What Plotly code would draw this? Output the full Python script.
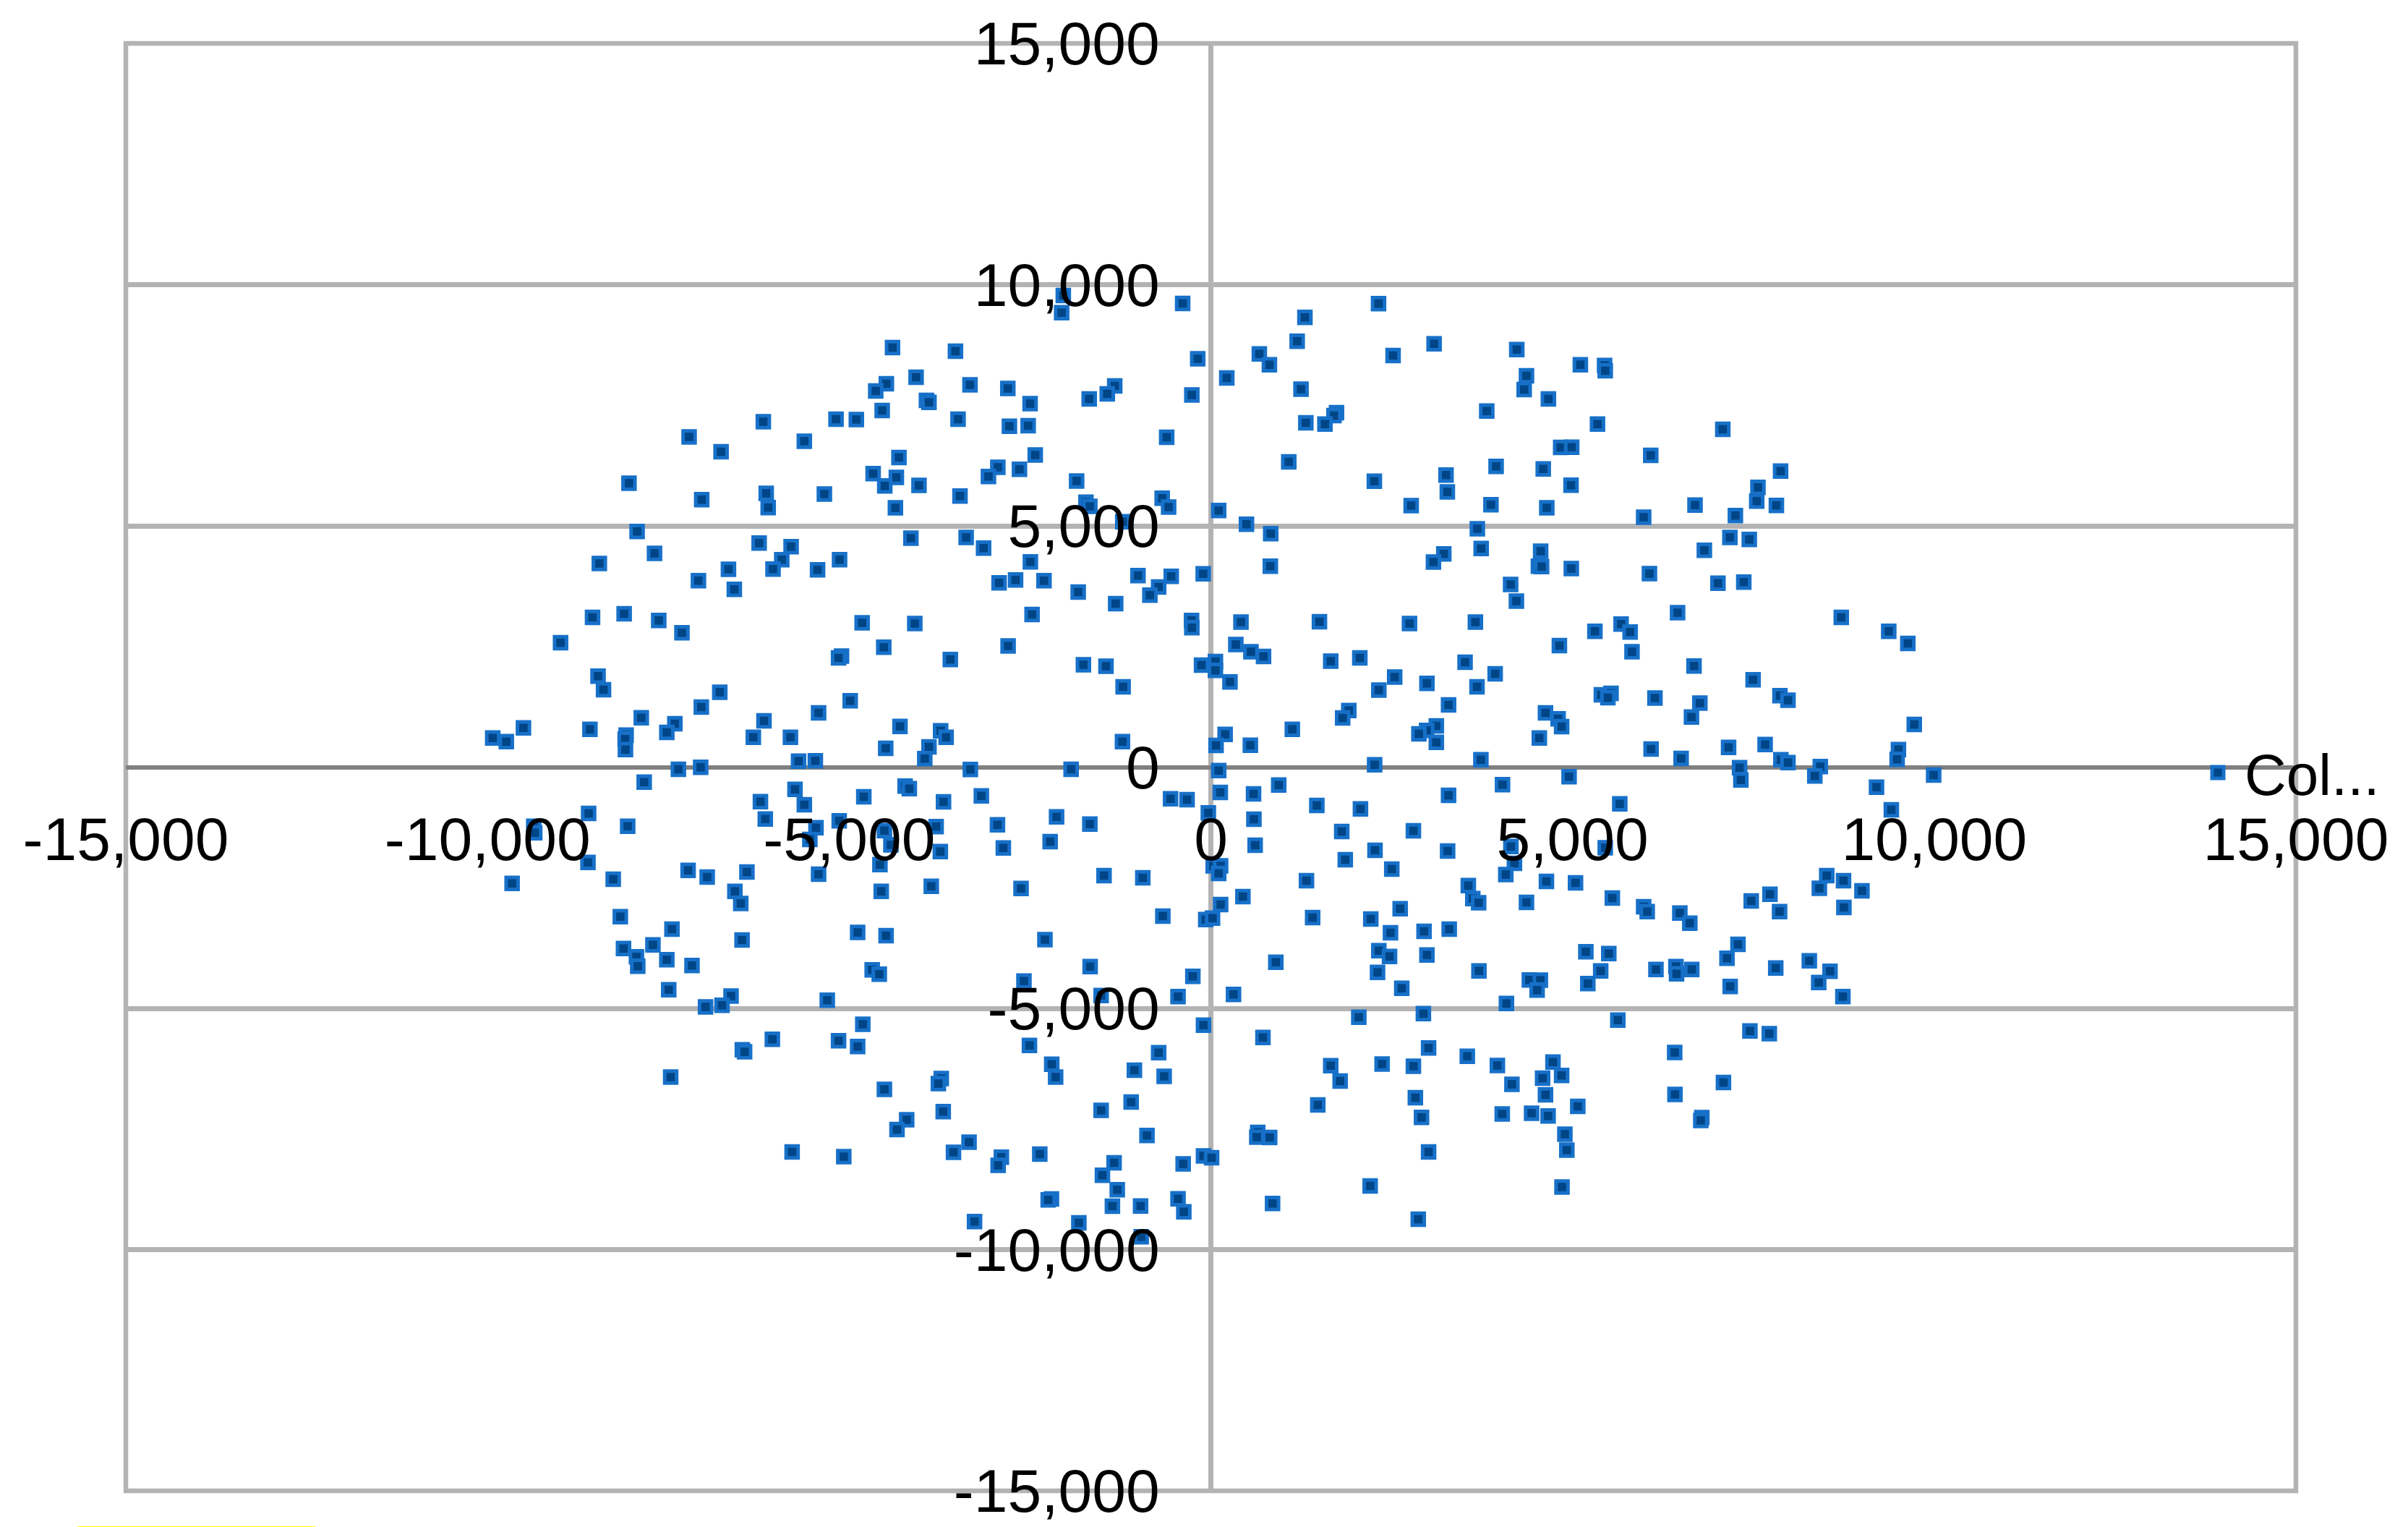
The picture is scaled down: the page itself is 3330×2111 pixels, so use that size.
import plotly.graph_objects as go

series_name = "Col..."
tick_values = [-15000, -10000, -5000, 0, 5000, 10000, 15000]
tick_labels = ["-15,000", "-10,000", "-5,000", "0", "5,000", "10,000", "15,000"]

col_x = [
 -4401,-3531,-4075,-4486,-4633,-3330,-3932,-3897,-4544,-6187,-5182,-4901,-3495,-7213,-5620,-6771,-4312,-4669,-4348,-4508,-4035,-8044,-7039,-6147,-6120,-5343,-3468,-4361,-7932,-4147,-3383,-6245,-5803,-7691,-5932,-8454,-5133,-6669,-6053,-5437,-7084,-6588,
 -2040,-2063,-390,2318,1300,1193,3086,-182,670,809,2519,220,-2807,-1329,-1432,-1682,-2499,-263,1246,1737,1702,1313,1577,-2785,-2526,-611,-2428,-2945,-2646,-3075,1077,-1856,2260,3251,3269,2769,-1727,-1673,-673,-584,108,-1218,492,827,3684,-3142,3220,3077,3737,-2495,822,-106,-1008,-548,-722,-843,-2928,-2700,-2307,-1834,-1316,
 4229,5108,5443,5452,4363,4331,4666,3814,5345,7077,4836,4988,6081,3943,4595,7876,4979,7563,7546,7818,3872,4644,6693,5983,7251,7175,7443,6822,4559,4528,4572,4983,6063,7010,7367,4144,4224,
 -8548,-8111,-7633,-7312,-8990,-4821,-4093,-4522,-5106,-5147,-3602,-8472,-8396,-6789,-7044,-4986,-5423,-6178,-7874,-7410,-7521,-9503,-9928,-9740,-8584,-8084,-8097,-8093,-6325,-5812,-4298,-3736,-3660,-4495,-3897,-3955,-5700,-5468,-7361,-7053,-3325,-7834,-4227,-4169,-5749,-4798,-6227,-3696,-5620,-8602,-6160,-5138,-5459,-3798,-8062,-9361,-9347,-4513,-5544,-4423,-3740,-8611,-4575,-7227,-6414,-6963,-5423,-8262,-9660,-6580,-6499,-4557,-3865,-8164,
 -2472,-267,-263,416,1501,2746,3657,-2803,345,554,728,-1762,-1450,-129,63,63,264,1657,2059,2541,2322,2987,3514,3679,-1213,3286,1907,1822,1126,197,72,546,-1222,3117,2983,2876,3117,2264,3733,-1932,108,938,130,590,-3173,-557,-329,3286,1465,2068,-35,-2133,-2950,-1673,595,1809,2800,-2222,612,-2869,2269,3273,1858,32,135,108,-1477,2501,-941,1322,-2624,3559,3621,3702,443,135,-664,-71,23,1407,2617,2211,
 6452,8715,5671,5796,5309,9371,9635,4818,5822,6679,3930,7496,5398,5532,5488,6139,6760,6644,7867,7978,4626,4800,4849,9724,4541,6086,7157,7662,9505,9487,6501,7309,7880,7978,8425,8349,7327,9992,4952,4032,9202,5653,9407,4148,5452,4197,4077,4639,5041,8514,8746,8412,9001,7729,7470,7862,8751,4363,5550,5983,6032,6483,6621,
 -7450,-6481,-4883,-4490,-8120,-7713,-7941,-7923,-7521,-7173,-4682,-4584,-7495,-6633,-6758,-6986,-5303,-4812,-6062,-5147,-4883,-6477,-6446,-7468,-3727,-3767,-4513,-3700,-4205,-4339,-3343,-3558,-5789,-5075,-3267,
 -2294,2483,2947,3295,2322,2470,2987,898,2304,-1669,-249,3706,-2584,2639,313,-1517,-454,2045,2938,-102,720,-2508,-722,3010,3545,-2200,-2146,-1057,-646,1657,2367,2800,1787,2827,-1102,-1517,1478,2912,-883,648,635,813,3010,-2896,-2941,-2365,-1338,-1499,-102,10,-383,-1294,-2204,-2249,-1361,-972,-454,-374,2202,853,2867,-1825,-963,
 7287,7135,5184,5501,5389,5211,4403,4555,4510,6153,6429,6438,6648,7809,8273,8559,8403,8737,7179,4086,5626,7452,7720,6412,3961,4729,4849,4586,4162,4626,7086,6416,5072,6787,6773,4028,4434,4662,4894,4921,4854,
]

col_y = [
 8695,8620,8080,7945,7795,7925,7600,7560,7390,7160,7210,7205,7210,6845,6755,6535,6415,6085,6005,5830,5840,5885,5545,5675,5380,5660,5620,5375,4885,4745,4760,4645,4570,4430,4300,4220,4300,4100,4105,4090,3865,3685,
 9775,9420,9610,9605,9320,8825,8775,8465,8565,8340,8530,8065,7850,7900,7735,7630,7535,7715,7835,7345,7285,7135,7110,7065,7075,6835,6470,6215,6175,6025,6325,5930,5925,6055,5705,5420,5490,5405,5575,5390,5320,5085,5035,4840,4940,4540,4420,4250,4530,4255,4165,4005,3970,3955,3735,3565,3820,3880,3865,3630,3390,
 8655,8340,8325,8215,8110,7825,7630,7380,7110,7000,6625,6630,6460,6235,6180,6135,5845,5800,5515,5425,5440,5375,5430,5180,5215,4760,4720,4495,4475,4165,4155,4115,4010,3810,3835,3785,3440,
 3105,3180,3040,2785,2580,2990,2975,2485,2300,2265,2230,1885,1605,1550,1245,1375,1125,960,1025,900,720,815,605,530,785,665,580,365,620,620,845,755,620,390,420,175,125,130,-45,-5,-50,-310,-395,-445,-460,-615,-715,-720,-780,-960,-1075,-1115,-1255,-1235,-1225,-1225,-1360,-1315,-1500,-1610,-1750,-1975,-2020,-2140,-2175,-2280,-2220,-2325,-2410,-2575,-2825,-2575,-2470,-3100,
 3165,3040,2890,3005,3015,2975,3005,2510,2540,2390,2295,2120,2090,2115,2190,2005,1765,2195,2265,1865,1595,1735,2175,1665,1665,1290,1175,1020,785,680,450,455,530,855,760,690,515,50,155,-45,-70,-370,-525,-555,-595,-655,-675,-585,-795,-865,-950,-1030,-1195,-1180,-1080,-1335,-1320,-1545,-1620,-1675,-1725,-1740,-1920,-2045,-2045,-2205,-2250,-2115,-2295,-2355,-2515,-2455,-2725,-2810,-2685,-2850,-3090,-3160,-3130,-3120,-2935,-3150,
 3200,3105,2965,2800,2815,2815,2565,2520,2390,2095,1935,1810,1500,1530,1440,1430,1325,1040,1480,1385,1125,1000,840,885,605,375,410,470,365,160,180,-10,155,95,10,-185,-265,-165,-200,-365,-415,-760,-885,-1645,-1670,-1995,-2225,-2370,-2400,-2250,-2355,-2510,-2565,-2635,-2775,-2995,-2910,-2805,-2715,-2895,-2995,-3025,-3235,
 -3360,-3585,-3425,-3495,-3760,-3685,-3930,-4125,-3990,-4110,-4200,-4290,-4615,-4745,-4935,-4970,-4830,-5330,-5640,-5670,-5790,-5860,-5900,-6425,-6455,-6560,-6680,-7140,-7310,-7510,-7775,-7985,-7975,-8075,-9420,
 -3575,-3435,-3405,-3360,-3805,-3925,-3895,-4045,-4255,-4135,-4335,-4225,-4435,-4585,-4710,-4735,-4755,-5185,-5110,-5350,-5605,-5770,-5920,-5820,-5995,-6160,-6425,-6280,-6410,-6190,-6155,-6200,-6505,-6850,-6940,-7115,-7000,-7260,-7635,-7570,-7670,-7675,-7975,-8085,-8255,-8020,-8200,-8460,-8060,-8095,-8225,-8760,-8950,-8970,-9100,-9095,-8945,-9215,-8680,-9045,-9370,-9445,-9735,
 -3675,-3960,-3825,-3865,-4225,-4485,-4410,-4415,-4620,-4195,-4135,-4285,-4195,-4165,-4015,-4230,-4465,-4755,-4545,-4900,-5245,-5470,-5525,-5915,-6185,-6115,-6390,-6445,-6575,-6790,-6535,-6785,-7030,-7265,-7325,-7190,-7175,-7230,-7610,-7940,-8705,
]

assert len(col_x) == len(col_y), (len(col_x), len(col_y))

GRID = "#b3b3b3"
AXIS = "#808080"
TICK_FONT = dict(family="Liberation Sans", size=84, color="black")
LEGEND_FONT = dict(family="Liberation Sans", size=80, color="black")

fig = go.Figure(go.Scatter(
    x=col_x, y=col_y, mode="markers", name=series_name, showlegend=True,
    marker=dict(symbol="square", size=16.5, color="#004586",
                line=dict(color="#1770c8", width=5)),
    cliponaxis=False,
))

common = dict(range=[-15000, 15000], tickmode="array", tickvals=tick_values,
              ticktext=tick_labels, tickfont=TICK_FONT, ticks="outside",
              tickcolor="rgba(0,0,0,0)", tickwidth=1, showline=False,
              anchor="free", position=0.5, zeroline=True, layer="above traces")

fig.update_layout(
    width=3330, height=2111, autosize=False,
    margin=dict(l=173.5, r=155, t=60, b=50, pad=0, autoexpand=False),
    paper_bgcolor="white", plot_bgcolor="white",
    font=TICK_FONT,
    xaxis=dict(**common, ticklen=27, showgrid=False, zerolinecolor=GRID, zerolinewidth=6.5),
    yaxis=dict(**common, ticklen=54, showgrid=True, gridcolor=GRID,
               gridwidth=6.5, zerolinecolor=AXIS, zerolinewidth=6),
    legend=dict(x=0.9517, xanchor="left", y=0.4962, yanchor="middle",
                bgcolor="rgba(0,0,0,0)", borderwidth=0, itemwidth=64,
                font=LEGEND_FONT),
    shapes=[
        dict(type="rect", xref="paper", yref="paper", x0=0, x1=1, y0=0, y1=1,
             line=dict(color=GRID, width=6.5), fillcolor="rgba(0,0,0,0)", layer="below"),
        dict(type="line", xref="paper", yref="paper",
             x0=-0.0225, x1=0.0875, y0=-0.0247, y1=-0.0247,
             line=dict(color="#ffff00", width=1), layer="below"),
    ],
)

fig.write_html("out.html", post_script="document.body.style.margin='0';",
               config={"displayModeBar": False})
